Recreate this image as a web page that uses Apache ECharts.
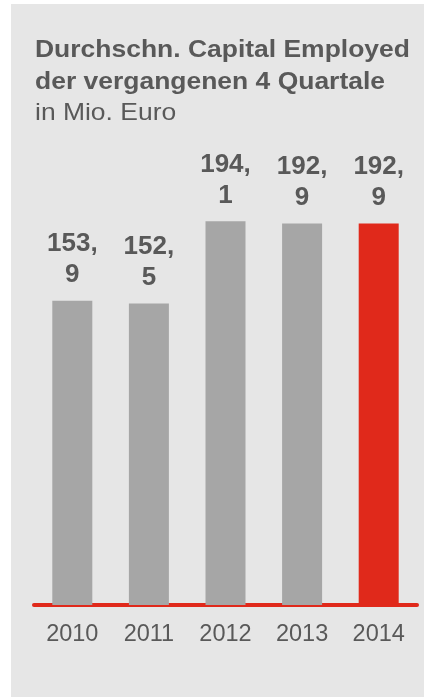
<!DOCTYPE html>
<html>
<head>
<meta charset="utf-8">
<script src="https://cdn.jsdelivr.net/npm/echarts@6/dist/echarts.min.js"></script>
<style>
html,body{margin:0;padding:0;background:#ffffff;}
#chart{width:424px;height:697px;}
</style>
</head>
<body>
<div id="chart"></div>
<script>
var categories = ['2010', '2011', '2012', '2013', '2014'];
var values = [153.9, 152.5, 194.1, 192.9, 192.9];
var highlightIndex = 4;
var titleLines = ['Durchschn. Capital Employed', 'der vergangenen 4 Quartale'];
var subtitle = 'in Mio. Euro';

var FONT = '"Liberation Sans", Arial, Helvetica, sans-serif';
var chart = echarts.init(document.getElementById('chart'), null, {renderer: 'canvas'});
chart.setOption({
  animation: false,
  backgroundColor: '#ffffff',
  graphic: [
    {type: 'rect', left: 11, top: 4, z: -10, shape: {width: 413, height: 693}, style: {fill: '#e6e6e6'}},
    {type: 'text', x: 35, y: 34, scaleX: 1.08, style: {text: titleLines.join('\n'), font: 'bold 24.5px ' + FONT, fill: '#595959', lineHeight: 32}},
    {type: 'text', x: 35, y: 97.5, scaleX: 1.08, style: {text: subtitle, font: '24.5px ' + FONT, fill: '#595959', lineHeight: 32}}
  ],
  grid: {left: 34, right: 7, top: 209.5, bottom: 92, containLabel: false},
  xAxis: {
    type: 'category',
    data: categories,
    axisLine: {show: true, lineStyle: {color: '#e0291b', width: 4}},
    axisTick: {show: false},
    axisLabel: {color: '#595959', fontSize: 23.5, fontFamily: 'Liberation Sans', margin: 18}
  },
  yAxis: {
    type: 'value', min: 0, max: 200,
    show: false,
    splitLine: {show: false}
  },
  series: [{
    type: 'bar',
    barWidth: 40,
    data: values.map(function (v, i) {
      return {value: v, itemStyle: {color: i === highlightIndex ? '#e0291b' : '#a6a6a6'}};
    }),
    label: {
      show: true,
      position: 'top',
      distance: 10,
      color: '#595959',
      fontSize: 26,
      fontWeight: 'bold',
      fontFamily: 'Liberation Sans',
      lineHeight: 31,
      align: 'center',
      formatter: function (p) {
        var s = p.value.toFixed(1).split('.');
        return s[0] + ',\n' + s[1];
      }
    }
  }]
});
</script>
</body>
</html>
